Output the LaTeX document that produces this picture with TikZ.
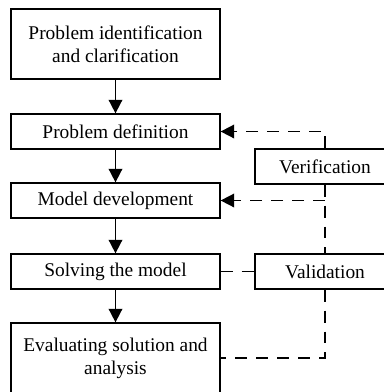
\documentclass[tikz,border=0pt]{standalone}
\usepackage{fontspec}
\setmainfont{Liberation Serif}
\usetikzlibrary{arrows.meta}

\begin{document}
\begin{tikzpicture}[
		box_style/.style={rectangle,draw=black,line width=0.9pt,minimum width=5.225cm,minimum height=0.875cm,align=center,font=\fontsize{13.8}{16.3}\selectfont},
		tall_style/.style={box_style,minimum height=1.75cm},
		side_style/.style={box_style,minimum width=3.5cm},
		edge_style/.style={draw=black,line width=1.2pt,-{Triangle[length=0.34cm,width=0.34cm]}},
		dash_style/.style={draw=black,line width=1.2pt,dash pattern=on 8.5pt off 6.4pt}]
		
		\useasboundingbox (0,0) rectangle (9.6,-9.8);
		\clip (0,0) rectangle (9.6,-9.8);
		
		\node[tall_style] (ident) at (2.8875,-1.1)  {Problem identification\\and clarification};
		\node[box_style] (defin) at (2.8875,-3.2875)  {Problem definition};
		\node[box_style] (model) at (2.8875,-5.0125)  {Model development};
		\node[box_style] (solve) at (2.8875,-6.7875)  {Solving the model};
		\node[tall_style] (evalu) at (2.8875,-8.95)  {Evaluating solution and\\analysis};
		
		\node[side_style] (verif) at (8.125,-4.1625)  {Verification};
		\node[side_style] (valid) at (8.125,-6.7875)  {Validation};
		\coordinate (join) at (verif.south |- model.east);
		
		\draw[edge_style]  (ident) -- (defin);
		\draw[edge_style]  (defin) -- (model);
		\draw[edge_style]  (model) -- (solve);
		\draw[edge_style]  (solve) -- (evalu);
		
		\draw[dash_style,-{Triangle[length=0.34cm,width=0.34cm]}]  (verif.north) |- (defin.east);
		\draw[dash_style]  (verif.south) -- (valid.north);
		\draw[dash_style,-{Triangle[length=0.34cm,width=0.34cm]}]  (join) -- (model.east);
		\draw[dash_style]  (solve.east) -- (valid.west);
		\draw[dash_style]  (valid.south) |- (evalu.east);

\end{tikzpicture}
\end{document}
